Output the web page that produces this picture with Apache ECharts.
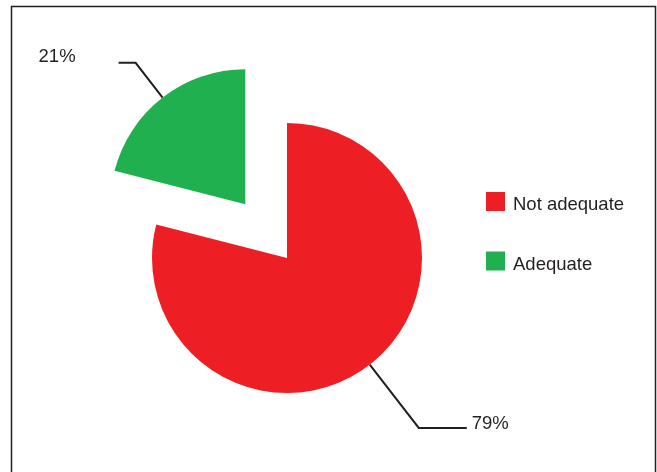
<!DOCTYPE html>
<html>
<head>
<meta charset="utf-8">
<script src="https://cdn.jsdelivr.net/npm/echarts@6/dist/echarts.min.js"></script>
<style>
html, body { margin: 0; padding: 0; background: #fff; }
#main { width: 657px; height: 472px; }
</style>
</head>
<body>
<div id="main"></div>
<script>
// data
var categories = ['Not adequate', 'Adequate'];
var values = [79, 21];
var colors = ['#ED1F24', '#21B04F'];
var labelShiftY = [-4, -6];

var myChart = echarts.init(document.getElementById('main'));

var pieData = [
    {
        value: values[0], name: categories[0],
        itemStyle: { color: colors[0] },
        labelLine: { length: 80, length2: 48 },
        label: { distanceToLabelLine: 5 }
    },
    {
        value: values[1], name: categories[1], selected: true,
        itemStyle: { color: colors[1] },
        labelLine: { length: 44, length2: 17 },
        label: { distanceToLabelLine: 43 }
    }
];

var option = {
    animation: false,
    graphic: [{
        type: 'rect',
        shape: { x: 11.5, y: 6.5, width: 644, height: 490 },
        style: { fill: null, stroke: '#231F20', lineWidth: 1.5 },
        silent: true
    }],
    legend: {
        orient: 'vertical',
        left: 486,
        top: 192,
        padding: 0,
        itemWidth: 19,
        itemHeight: 19,
        itemGap: 37,
        icon: 'rect',
        selectedMode: false,
        formatter: '{t|{name}}',
        textStyle: {
            fontFamily: 'Liberation Sans', fontSize: 18.5, color: '#231F20',
            rich: { t: { fontFamily: 'Liberation Sans', fontSize: 18.5, color: '#231F20', padding: [7, 0, 0, 3] } }
        },
        data: categories
    },
    series: [{
        type: 'pie',
        center: [287, 258],
        radius: 135,
        startAngle: 90,
        clockwise: true,
        selectedMode: 'single',
        selectedOffset: 68,
        avoidLabelOverlap: false,
        emphasis: { disabled: true },
        label: {
            show: true,
            position: 'outside',
            formatter: '{c}%',
            fontFamily: 'Liberation Sans',
            fontSize: 18.5,
            color: '#231F20'
        },
        labelLine: {
            show: true,
            lineStyle: { color: '#231F20', width: 2 }
        },
        labelLayout: function (params) {
            return { dy: labelShiftY[params.dataIndex] };
        },
        data: pieData
    }]
};

myChart.setOption(option);
</script>
</body>
</html>
